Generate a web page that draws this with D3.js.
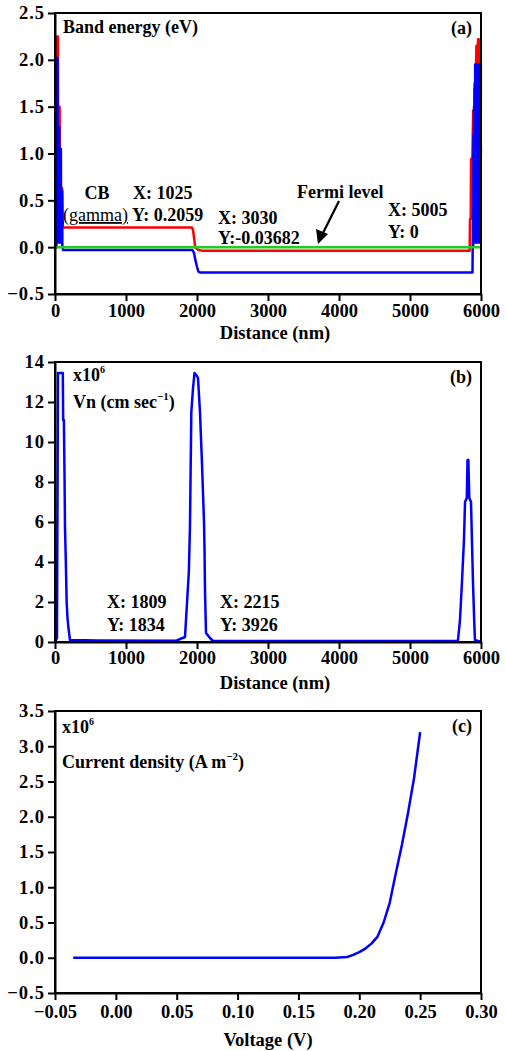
<!DOCTYPE html>
<html>
<head>
<meta charset="utf-8">
<script src="https://cdn.jsdelivr.net/npm/d3@7/dist/d3.min.js"></script>
<style>
html,body{margin:0;padding:0;background:#fff;}
svg text{font-family:"Liberation Serif","Times New Roman",serif;fill:#000;}
</style>
</head>
<body>
<svg id="chart" width="506" height="1051"></svg>
<script>
// ---------- DATA ----------
// Panel (a): band profiles [distance nm, energy eV]
const cbProfile = [[0,0],[20,0],[25,2.25],[40,2.25],[45,1.0],[52,1.5],[65,1.5],[70,0.5],[80,0.63],[100,0.63],[110,0.21],
  [1930,0.21],[1945,0.18],[1958,0.1],[1975,0.0],[1986,-0.01],[2020,-0.03],[2070,-0.037],[5840,-0.037],[5845,0.3],[5855,0.3],
  [5860,0.94],[5870,0.56],[5890,1.46],[5900,1.16],[5910,1.75],[5920,1.46],[5935,2.15],[5945,1.68],[5958,2.22],[5968,2.22],[5980,1.5],[6000,1.0]];
const vbProfile = [[0,0],[14,0],[16,1.28],[19,0.05],[22,1.28],[25,0.05],[26,2.02],[36,2.02],[38,0.1],[41,1.28],[44,0.05],
  [47,1.28],[50,0.05],[53,1.28],[56,0.05],[59,1.28],[62,0.05],[65,1.05],[68,0.05],[71,1.05],[74,0.05],[77,1.05],[80,0.05],
  [83,1.05],[86,0.1],[89,0.6],[92,0.05],[95,0.6],[98,0.05],[101,0.6],[104,0],[108,0],[113,-0.03],
  [1935,-0.03],[1958,-0.06],[1972,-0.12],[2000,-0.21],[2020,-0.26],[2042,-0.27],[5880,-0.27],[5887,0.35],[5890,0],
  [5894,1.2],[5898,0.05],[5902,1.5],[5906,0.05],[5910,1.7],[5914,0.05],[5918,1.95],[5922,0.05],[5926,1.95],[5930,0.05],
  [5934,1.95],[5938,0.05],[5942,1.95],[5946,0.05],[5950,1.95],[5954,0.05],[5958,1.95],[5962,0.05],[5966,1.95],[5970,0.05],
  [5974,1.95],[5978,0.05],[5982,1.95],[5986,0.05],[5990,1.95],[5994,0.05],[5998,1.95],[6000,1.95]];
const fermiProfile = [[0,0],[6000,0]];
// Panel (b): electron velocity [distance nm, Vn x1e6 cm/s]
const vnProfile = [[0,0],[28,0.2],[42,13.45],[110,13.45],[115,11.1],[125,11.1],[135,8],[141,5.7],[152,4.1],[164,2.0],
  [176,1.2],[188,0.75],[211,0.1],[600,0.08],[1700,0.06],[1831,0.25],[1860,2.0],[1885,3.5],[1901,5.75],[1920,11.5],
  [1944,12.7],[1965,13.45],[1990,13.35],[2014,13.2],[2042,11.5],[2070,8.95],[2099,5.95],[2106,4.6],[2113,2.5],[2127,0.45],
  [2183,0.2],[2225,0.05],[5660,0.05],[5676,0.1],[5704,1.1],[5732,3.0],[5760,5.1],[5775,7.0],[5800,7.2],[5810,9.1],
  [5822,9.1],[5835,7.2],[5859,7.0],[5873,5.0],[5887,3.0],[5905,1.0],[5915,0.1],[6000,0]];
// Panel (c): J-V curve
const voltage = [-0.035,0.0,0.05,0.10,0.15,0.18,0.19,0.195,0.20,0.205,0.21,0.215,0.22,0.225,0.23,0.235,0.24,0.245,0.25];
const currentDensity = [0,0,0,0,0,0,0.01,0.04,0.08,0.13,0.2,0.3,0.5,0.78,1.2,1.6,2.05,2.55,3.2];

const distTicks = [0,1000,2000,3000,4000,5000,6000];
const bandTicks = [-0.5,0,0.5,1.0,1.5,2.0,2.5];
const vnTicks = [0,2,4,6,8,10,12,14];
const voltTicks = [-0.05,0,0.05,0.10,0.15,0.20,0.25,0.30];
const jTicks = [-0.5,0,0.5,1.0,1.5,2.0,2.5,3.0,3.5];

// ---------- DRAW ----------
const svg = d3.select("#chart");
const L = 55, R = 481;

function panel(cfg){
  const g = svg.append("g");
  const x = d3.scaleLinear().domain(cfg.xDomain).range([L,R]);
  const y = d3.scaleLinear().domain(cfg.yDomain).range([cfg.bottom,cfg.top]);
  cfg.series.forEach(s=>{
    g.append("path").datum(s.data)
      .attr("fill","none").attr("stroke",s.color).attr("stroke-width",s.width||2.5)
      .attr("stroke-linejoin","round")
      .attr("d",d3.line().x(d=>x(d[0])).y(d=>y(d[1])));
  });
  g.append("rect").attr("x",L).attr("y",cfg.top).attr("width",R-L).attr("height",cfg.bottom-cfg.top)
    .attr("fill","none").attr("stroke","#000").attr("stroke-width",2);
  const xa = g.append("g").attr("transform",`translate(0,${cfg.bottom})`)
    .call(d3.axisBottom(x).tickValues(cfg.xTicks).tickFormat(cfg.xFmt).tickSize(7).tickSizeOuter(0).tickPadding(cfg.xPad));
  const ya = g.append("g").attr("transform",`translate(${L},0)`)
    .call(d3.axisLeft(y).tickValues(cfg.yTicks).tickFormat(cfg.yFmt).tickSize(7).tickSizeOuter(0).tickPadding(3));
  [xa,ya].forEach(a=>{
    a.select(".domain").attr("stroke","#000").attr("stroke-width",2);
    a.selectAll(".tick line").attr("stroke","#000").attr("stroke-width",2);
    a.selectAll(".tick text").attr("font-family","Liberation Serif").attr("font-weight","bold")
      .attr("font-size",18.5).attr("fill","#000");
  });
  ya.selectAll(".tick text").attr("letter-spacing","1");
  g.append("text").attr("x",cfg.titleX).attr("y",cfg.titleY).attr("text-anchor","middle")
    .attr("font-weight","bold").attr("font-size",18.5).text(cfg.title);
  g.append("text").attr("x",472).attr("y",cfg.top+21).attr("text-anchor","end")
    .attr("font-weight","bold").attr("font-size",18).text(cfg.tag);
  return {g,x,y};
}

function txt(g,xp,yp,s,opts={}){
  const t = g.append("text").attr("x",xp).attr("y",yp).attr("font-size",opts.size||18)
    .attr("font-weight",opts.weight||"bold").text(s);
  if(opts.anchor) t.attr("text-anchor",opts.anchor);
  if(opts.deco) t.attr("text-decoration",opts.deco);
  return t;
}

// Panel (a)
const pa = panel({xDomain:[0,6000],yDomain:[-0.5,2.5],top:13,bottom:294,xTicks:distTicks,yTicks:bandTicks,
  xFmt:d3.format("d"),yFmt:d3.format(".1f"),xPad:3,title:"Distance (nm)",titleX:275,titleY:339,tag:"(a)",
  series:[{data:cbProfile,color:"#ff0000"},{data:vbProfile,color:"#0000ff"},{data:fermiProfile,color:"#22cc22"}]});
txt(pa.g,63,33,"Band energy (eV)");
txt(pa.g,97,199,"CB",{anchor:"middle"});
txt(pa.g,63,221,"(gamma)",{weight:"normal",deco:"underline"});
txt(pa.g,133,199,"X: 1025");
txt(pa.g,132,221,"Y: 0.2059");
txt(pa.g,218,224,"X: 3030");
txt(pa.g,218,244,"Y:-0.03682");
txt(pa.g,297,198,"Fermi level");
txt(pa.g,388,216,"X: 5005");
txt(pa.g,388,238,"Y: 0");
pa.g.append("line").attr("x1",339).attr("y1",201).attr("x2",323).attr("y2",233)
  .attr("stroke","#000").attr("stroke-width",2.2);
pa.g.append("path").attr("d","M318,244 L316,229 L328,234 Z").attr("fill","#000");

// Panel (b)
const pb = panel({xDomain:[0,6000],yDomain:[0,14],top:362,bottom:642,xTicks:distTicks,yTicks:vnTicks,
  xFmt:d3.format("d"),yFmt:d3.format("d"),xPad:2,title:"Distance (nm)",titleX:275,titleY:689,tag:"(b)",
  series:[{data:vnProfile,color:"#0000ff"}]});
const tb1 = txt(pb.g,73,381,"x10");
tb1.append("tspan").attr("font-size",10).attr("dy",-8).text("6");
const tb2 = txt(pb.g,73,408,"Vn (cm sec");
tb2.append("tspan").attr("font-size",11).attr("dy",-8).text("\u22121");
tb2.append("tspan").attr("dy",8).text(")");
txt(pb.g,107,608,"X: 1809");
txt(pb.g,107,631,"Y: 1834");
txt(pb.g,220,608,"X: 2215");
txt(pb.g,220,631,"Y: 3926");

// Panel (c)
const pc = panel({xDomain:[-0.05,0.30],yDomain:[-0.5,3.5],top:711,bottom:993,xTicks:voltTicks,yTicks:jTicks,
  xFmt:d3.format(".2f"),yFmt:d3.format(".1f"),xPad:5,title:"Voltage (V)",titleX:268,titleY:1046,tag:"(c)",
  series:[{data:voltage.map((v,i)=>[v,currentDensity[i]]),color:"#0000ff"}]});
const tc1 = txt(pc.g,62,733,"x10");
tc1.append("tspan").attr("font-size",10).attr("dy",-8).text("6");
const tc2 = txt(pc.g,62,768,"Current density (A m");
tc2.append("tspan").attr("font-size",11).attr("dy",-8).text("\u22122");
tc2.append("tspan").attr("dy",8).text(")");
</script>
</body>
</html>
